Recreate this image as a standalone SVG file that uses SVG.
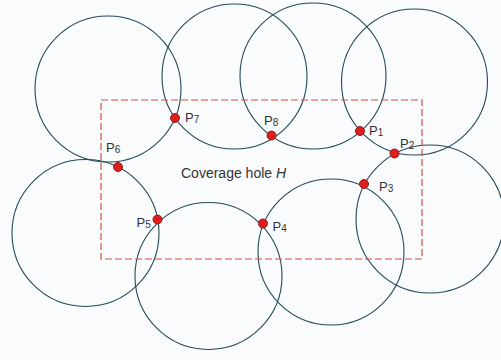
<svg xmlns="http://www.w3.org/2000/svg" width="501" height="360" viewBox="0 0 501 360">
<style>
.c{fill:none;stroke:#25495a;stroke-width:1.1}
.p{fill:#e01c1c;stroke:#8a1f1f;stroke-width:1}
.l{font-family:"Liberation Sans",Arial,sans-serif;font-size:13px;fill:#333}
.s{font-size:10px}
.hole{fill:none;stroke:#d8503c;stroke-width:1.2;stroke-dasharray:7 3}
</style>
<rect width="501" height="360" fill="#fafbfd"/>
<g id="circles">
<circle id="cA" class="c" cx="108" cy="89" r="73"/>
<circle id="cB" class="c" cx="234.5" cy="76.5" r="72.5"/>
<circle id="cC" class="c" cx="313" cy="76" r="73"/>
<circle id="cD" class="c" cx="414.5" cy="82" r="73"/>
<circle id="cE" class="c" cx="430" cy="219" r="74"/>
<circle id="cF" class="c" cx="331" cy="252" r="73"/>
<circle id="cG" class="c" cx="208.5" cy="276" r="73.5"/>
<circle id="cH" class="c" cx="85.5" cy="233" r="73.5"/>
</g>
<g id="hole">
<rect class="hole" x="101" y="100" width="321" height="159"/>
<text class="l" x="181" y="178" font-size="14" style="font-size:14px">Coverage hole <tspan font-style="italic">H</tspan></text>
</g>
<g id="P1"><circle class="p" cx="360" cy="131" r="4.5"/><text class="l" x="369" y="135">P<tspan class="s" dy="1">1</tspan></text></g>
<g id="P2"><circle class="p" cx="394.5" cy="153.5" r="4.5"/><text class="l" x="400" y="148">P<tspan class="s" dy="1">2</tspan></text></g>
<g id="P3"><circle class="p" cx="364" cy="184" r="4.5"/><text class="l" x="379" y="191">P<tspan class="s" dy="1">3</tspan></text></g>
<g id="P4"><circle class="p" cx="263" cy="223.5" r="4.5"/><text class="l" x="272.5" y="230.5">P<tspan class="s" dy="1">4</tspan></text></g>
<g id="P5"><circle class="p" cx="157.5" cy="219.5" r="4.5"/><text class="l" x="136.5" y="226.5">P<tspan class="s" dy="1">5</tspan></text></g>
<g id="P6"><circle class="p" cx="118" cy="167" r="4.5"/><text class="l" x="106" y="152">P<tspan class="s" dy="1">6</tspan></text></g>
<g id="P7"><circle class="p" cx="175" cy="118" r="4.5"/><text class="l" x="185" y="122">P<tspan class="s" dy="1">7</tspan></text></g>
<g id="P8"><circle class="p" cx="271.5" cy="135.5" r="4.5"/><text class="l" x="264" y="125">P<tspan class="s" dy="1">8</tspan></text></g>
</svg>
